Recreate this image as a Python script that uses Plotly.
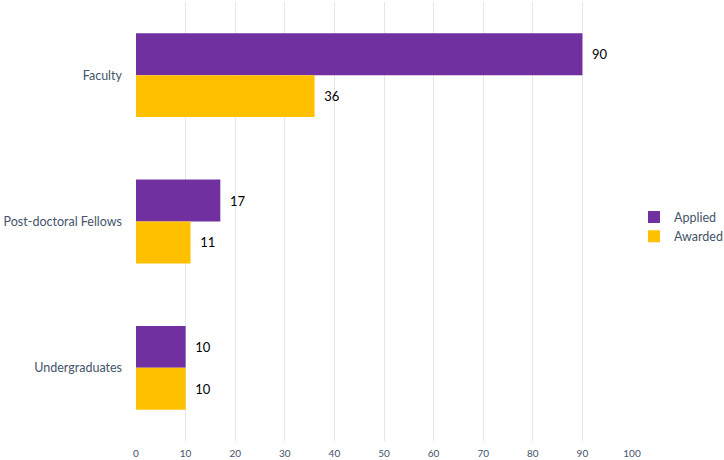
import plotly.graph_objects as go

categories = ["Faculty", "Post-doctoral Fellows", "Undergraduates"]
applied = [90, 17, 10]
awarded = [36, 11, 10]
x_ticks = [0, 10, 20, 30, 40, 50, 60, 70, 80, 90, 100]

PURPLE = "#7030A0"
GOLD = "#FFC000"
FONT = "Lato, 'Open Sans', sans-serif"

fig = go.Figure()
fig.add_trace(go.Bar(
    y=categories, x=applied, name="Applied", orientation="h", legendgroup="a",
    marker=dict(color=PURPLE, line=dict(width=0)),
    text=applied, texttemplate="\u00a0\u00a0%{x}", textposition="outside", cliponaxis=False,
    textfont=dict(color="#000000", size=13, family=FONT),
))
fig.add_trace(go.Bar(
    y=categories, x=awarded, name="Awarded", orientation="h", legendgroup="b",
    marker=dict(color=GOLD, line=dict(width=0)),
    text=awarded, texttemplate="\u00a0\u00a0%{x}", textposition="outside", cliponaxis=False,
    textfont=dict(color="#000000", size=13, family=FONT),
))

fig.update_layout(
    width=724, height=460,
    margin=dict(l=136, r=92, t=2, b=19, autoexpand=False),
    plot_bgcolor="white", paper_bgcolor="white",
    barmode="group", bargap=0.427, bargroupgap=0,
    font=dict(family=FONT, color="#44546A"),
    xaxis=dict(
        range=[0, 100], tickvals=x_ticks, showgrid=True, automargin=False,
        gridcolor="#E4E7EC", gridwidth=1, zeroline=False,
        showline=False, ticks="", ticklabelstandoff=5,
        tickfont=dict(size=10, color="#44546A"),
    ),
    yaxis=dict(
        categoryorder="array", categoryarray=categories,
        autorange="reversed", showgrid=False, zeroline=False, showline=False,
        automargin=False,
        ticks="", ticklabelstandoff=13, tickfont=dict(size=12.5, color="#44546A"),
    ),
    legend=dict(
        x=0.004, y=0.488, xanchor="left", yanchor="middle",
        traceorder="normal", font=dict(size=12.5, color="#44546A"),
        itemwidth=30, tracegroupgap=12, bgcolor="rgba(0,0,0,0)",
    ),
)
fig.update_layout(legend_x=1.004)

fig.write_html(
    "out.html",
    config={"displayModeBar": False},
    post_script="document.body.style.margin='0';document.body.style.padding='0';",
)
